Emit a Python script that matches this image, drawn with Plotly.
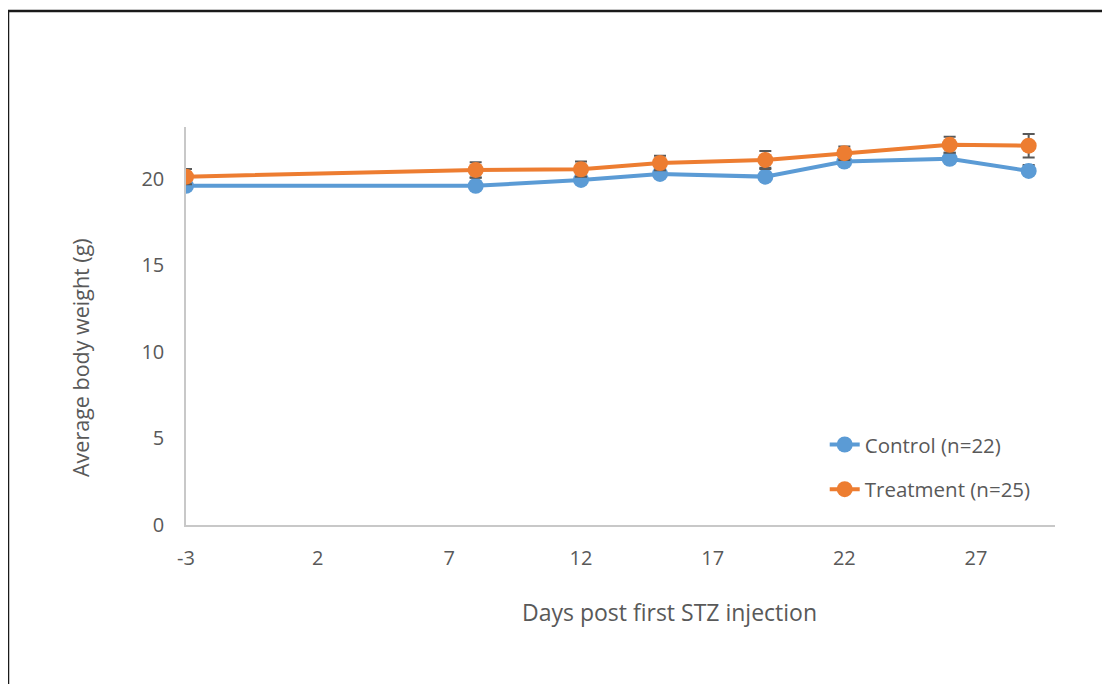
import plotly.graph_objects as go

days = [-3, 8, 12, 15, 19, 22, 26, 29]
control = [19.60, 19.60, 19.94, 20.29, 20.13, 21.00, 21.16, 20.46]
control_err = [0.35, 0.48, 0.35, 0.35, 0.52, 0.35, 0.35, 0.35]
treatment = [20.13, 20.52, 20.56, 20.92, 21.10, 21.49, 21.97, 21.92]
treatment_err = [0.44, 0.45, 0.44, 0.42, 0.52, 0.39, 0.46, 0.68]
x_ticks = [-3, 2, 7, 12, 17, 22, 27]
x_tick_text = ["-3", "2", "7", "12", "17", "22", "27"]
y_ticks = [0, 5, 10, 15, 20]

FONT = "Open Sans"
GREY = "#595959"

fig = go.Figure()
fig.add_trace(go.Scatter(
    x=days, y=control, mode="lines+markers", name="Control (n=22)",
    line=dict(color="#5B9BD5", width=4), marker=dict(size=16, color="#5B9BD5"),
    error_y=dict(type="data", array=control_err, symmetric=False,
                 arrayminus=[0] * len(control_err), color=GREY, thickness=2, width=6),
    legendgroup="c"))
fig.add_trace(go.Scatter(
    x=days, y=treatment, mode="lines+markers", name="Treatment (n=25)",
    line=dict(color="#ED7D31", width=4), marker=dict(size=16, color="#ED7D31"),
    error_y=dict(type="data", array=treatment_err, color=GREY, thickness=2, width=6),
    legendgroup="t"))

fig.update_layout(
    width=1110, height=684,
    margin=dict(l=178, r=63, t=119, b=167),
    paper_bgcolor="white", plot_bgcolor="white",
    font=dict(family=FONT, size=20, color=GREY),
    showlegend=True,
    legend=dict(x=0.735, y=0.252, xanchor="left", yanchor="top",
                font=dict(size=20.5, color=GREY), tracegroupgap=15,
                traceorder="grouped", bgcolor="rgba(0,0,0,0)"),
    xaxis=dict(range=[-3, 30], tickvals=x_ticks, ticktext=x_tick_text,
               showgrid=False, zeroline=False,
               showline=True, linecolor="#C8C8C8", linewidth=1.5, ticks="",
               ticklabelstandoff=14, tickfont=dict(size=20, color=GREY)),
    yaxis=dict(range=[0, 23], tickvals=y_ticks, showgrid=False, zeroline=False,
               showline=True, linecolor="#C8C8C8", linewidth=1.5, ticks="",
               ticklabelstandoff=16, tickfont=dict(size=20, color=GREY)),
    annotations=[
        dict(text="Days post first STZ injection", xref="paper", yref="paper",
             x=(669 - 186) / 869, y=(525 - 612) / 398, xanchor="center", yanchor="middle",
             showarrow=False, font=dict(size=23, color=GREY)),
        dict(text="Average body weight (g)", xref="paper", yref="paper",
             x=(80 - 186) / 869, y=(525 - 358) / 398, xanchor="center", yanchor="middle",
             textangle=-90, showarrow=False, font=dict(size=21.5, color=GREY)),
    ],
    shapes=[dict(type="rect", xref="paper", yref="paper",
                 x0=(8 - 186) / 869, x1=(1125 - 186) / 869,
                 y0=(525 - 700) / 398, y1=(525 - 11) / 398,
                 line=dict(color="#1a1a1a", width=2.5), fillcolor="rgba(0,0,0,0)", layer="below")],
)

fig.write_html("out.html")
